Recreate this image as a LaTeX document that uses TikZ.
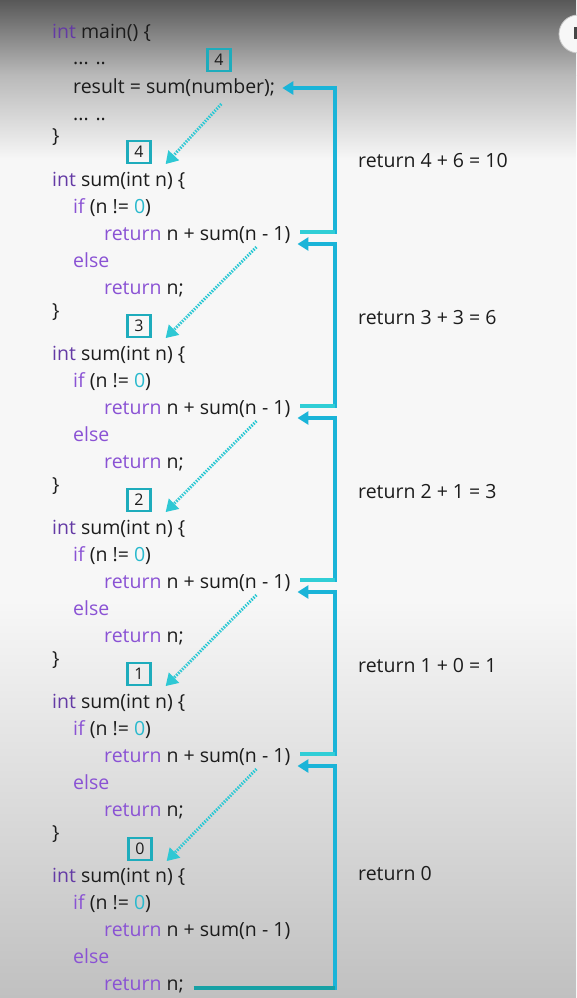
\documentclass[tikz,border=0pt]{standalone}
\usepackage{fontspec}
\setmainfont{Open Sans}
\usepackage{tikz}
\usetikzlibrary{arrows.meta}
\definecolor{codetext}{RGB}{28,28,28}
\definecolor{typecol}{RGB}{100,58,165}
\definecolor{keycol}{RGB}{138,82,212}
\definecolor{numcol}{RGB}{40,185,205}
\definecolor{retblue}{RGB}{26,180,216}
\definecolor{retturq}{RGB}{48,206,214}
\definecolor{retteal}{RGB}{22,160,164}
\definecolor{calldot}{RGB}{46,200,212}
\definecolor{boxline}{RGB}{30,172,188}
\definecolor{bgtop}{RGB}{88,88,88}
\definecolor{bgupper}{RGB}{185,185,185}
\definecolor{bgmid}{RGB}{247,247,247}
\definecolor{bgbottom}{RGB}{192,192,192}
\newcommand{\typ}[1]{\textcolor{typecol}{#1}}
\newcommand{\kwd}[1]{\textcolor{keycol}{#1}}
\newcommand{\lit}[1]{\textcolor{numcol}{#1}}
\tikzstyle{codeline}=[anchor=base west, inner sep=0pt, text=codetext, font=\fontsize{19.5}{23}\selectfont]
\tikzstyle{retlabel}=[anchor=base west, inner sep=0pt, text=codetext, font=\fontsize{19.5}{23}\selectfont]
\tikzstyle{numbox}=[rectangle, draw=boxline, line width=2.2pt, minimum width=23pt, minimum height=22pt, inner sep=0pt, text=codetext, font=\fontsize{16}{19}\selectfont]
\tikzstyle{retarrow}=[draw=retblue, line width=3.3pt, -{Triangle[length=11pt,width=13pt]}]
\tikzstyle{outseg}=[draw=retturq, line width=3.3pt]
\tikzstyle{callarrow}=[draw=calldot, line width=3pt, dash pattern=on 1.5pt off 1.3pt, -{Triangle[length=12pt,width=14pt]}]

\begin{document}
\begin{tikzpicture}[x=1pt,y=-1pt]

% background
\useasboundingbox (0,0) rectangle (576,998);
\shade[top color=bgtop, bottom color=bgupper] (0,0) rectangle (576,75);
\shade[top color=bgupper, bottom color=bgmid] (0,75) rectangle (576,160);
\fill[bgmid] (0,160) rectangle (576,600);
\shade[top color=bgmid, bottom color=bgbottom] (0,600) rectangle (576,998);
\fill[gray!6, draw=gray!45, line width=0.8pt] (578,34) circle (19pt);
\fill[gray!55!black] (574,27) rectangle (578,39);

% main
\node[codeline](m1) at (52,38) {\typ{int} main() \{};
\node[codeline](m2) at (73,65) {... ..};
\node[codeline](m3) at (73,93) {result = sum(number);};
\node[codeline](m4) at (73,120) {... ..};
\node[codeline](m5) at (52,142) {\}};
\node[numbox](mb) at (219,60) {4};

% sum(4)
\node[numbox](b4) at (139,152) {4};
\node[codeline](s4h) at (52,186) {\typ{int} sum(int n) \{};
\node[codeline](s4i) at (73,213) {\kwd{if} (n != \lit{0})};
\node[codeline](s4r) at (104,240) {\kwd{return} n + sum(n - 1)};
\node[codeline](s4e) at (73,267) {\kwd{else}};
\node[codeline](s4n) at (104,294) {\kwd{return} n;};
\node[codeline](s4c) at (52,317) {\}};

% sum(3)
\node[numbox](b3) at (139,326) {3};
\node[codeline](s3h) at (52,360) {\typ{int} sum(int n) \{};
\node[codeline](s3i) at (73,387) {\kwd{if} (n != \lit{0})};
\node[codeline](s3r) at (104,414) {\kwd{return} n + sum(n - 1)};
\node[codeline](s3e) at (73,441) {\kwd{else}};
\node[codeline](s3n) at (104,468) {\kwd{return} n;};
\node[codeline](s3c) at (52,491) {\}};

% sum(2)
\node[numbox](b2) at (139,500) {2};
\node[codeline](s2h) at (52,534) {\typ{int} sum(int n) \{};
\node[codeline](s2i) at (73,561) {\kwd{if} (n != \lit{0})};
\node[codeline](s2r) at (104,588) {\kwd{return} n + sum(n - 1)};
\node[codeline](s2e) at (73,615) {\kwd{else}};
\node[codeline](s2n) at (104,642) {\kwd{return} n;};
\node[codeline](s2c) at (52,665) {\}};

% sum(1)
\node[numbox](b1) at (139,674) {1};
\node[codeline](s1h) at (52,708) {\typ{int} sum(int n) \{};
\node[codeline](s1i) at (73,735) {\kwd{if} (n != \lit{0})};
\node[codeline](s1r) at (104,762) {\kwd{return} n + sum(n - 1)};
\node[codeline](s1e) at (73,789) {\kwd{else}};
\node[codeline](s1n) at (104,816) {\kwd{return} n;};
\node[codeline](s1c) at (52,839) {\}};

% sum(0)
\node[numbox](b0) at (140,849) {0};
\node[codeline](s0h) at (52,882) {\typ{int} sum(int n) \{};
\node[codeline](s0i) at (73,909) {\kwd{if} (n != \lit{0})};
\node[codeline](s0r) at (104,936) {\kwd{return} n + sum(n - 1)};
\node[codeline](s0e) at (73,963) {\kwd{else}};
\node[codeline](s0n) at (104,990) {\kwd{return} n;};

% returned values
\node[retlabel](r4) at (358,167) {return 4 + 6 = 10};
\node[retlabel](r3) at (358,324) {return 3 + 3 = 6};
\node[retlabel](r2) at (358,498) {return 2 + 1 = 3};
\node[retlabel](r1) at (358,672) {return 1 + 0 = 1};
\node[retlabel](r0) at (358,880) {return 0};

% calls
\draw[callarrow]([xshift=-54pt,yshift=-11pt]m3.base east) -- ([xshift=14pt]b4.south east);
\draw[callarrow]([xshift=-34pt,yshift=-7pt]s4r.base east) -- ([xshift=14pt]b3.south east);
\draw[callarrow]([xshift=-34pt,yshift=-7pt]s3r.base east) -- ([xshift=14pt]b2.south east);
\draw[callarrow]([xshift=-34pt,yshift=-7pt]s2r.base east) -- ([xshift=14pt]b1.south east);
\draw[callarrow]([xshift=-34pt,yshift=-7pt]s1r.base east) -- ([xshift=14pt]b0.south east);

% returns
\coordinate (rail) at (335,0);
\coordinate (o4) at ([xshift=10pt,yshift=8pt]s4r.base east);
\coordinate (t4) at ([xshift=7pt,yshift=5pt]m3.base east);
\coordinate (o3) at ([xshift=10pt,yshift=8pt]s3r.base east);
\coordinate (t3) at ([xshift=7pt,yshift=-4pt]s4r.base east);
\coordinate (o2) at ([xshift=10pt,yshift=8pt]s2r.base east);
\coordinate (t2) at ([xshift=7pt,yshift=-4pt]s3r.base east);
\coordinate (o1) at ([xshift=10pt,yshift=8pt]s1r.base east);
\coordinate (t1) at ([xshift=7pt,yshift=-4pt]s2r.base east);
\coordinate (o0) at ([xshift=10pt,yshift=2pt]s0n.base east);
\coordinate (t0) at ([xshift=7pt,yshift=-4pt]s1r.base east);

\draw[retarrow](o4) -| (rail |- t4) -- (t4);
\draw[retarrow](o3) -| (rail |- t3) -- (t3);
\draw[retarrow](o2) -| (rail |- t2) -- (t2);
\draw[retarrow](o1) -| (rail |- t1) -- (t1);
\draw[retarrow](o0) -| (rail |- t0) -- (t0);
\draw[outseg](o4) -- (rail |- o4);
\draw[outseg](o3) -- (rail |- o3);
\draw[outseg](o2) -- (rail |- o2);
\draw[outseg](o1) -- (rail |- o1);
\draw[outseg,draw=retteal](o0) -- (rail |- o0);

\end{tikzpicture}
\end{document}
